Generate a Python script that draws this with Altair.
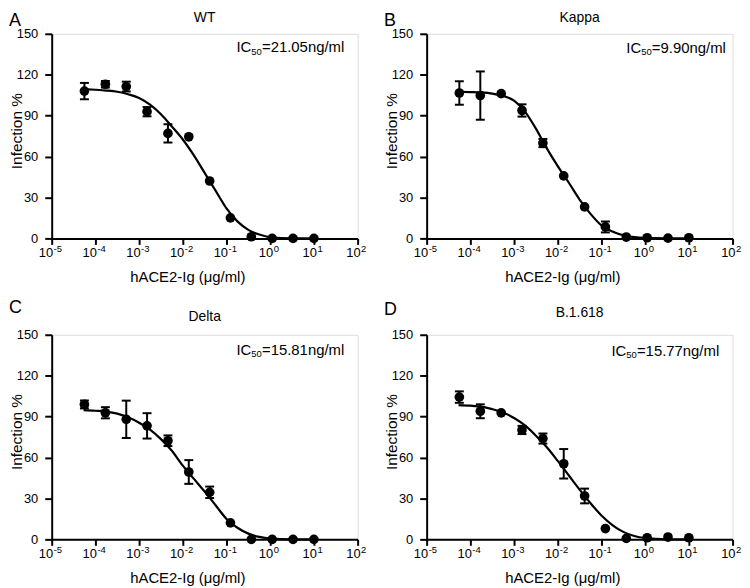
import altair as alt
import pandas as pd

FONT = "Liberation Sans"

# ---- data ----
conc = [5.6e-5, 1.69e-4, 5.08e-4, 1.52e-3, 4.57e-3, 1.37e-2, 4.12e-2, 0.123, 0.37, 1.11, 3.33, 10.0]

wt_y = [108.0, 113.0, 111.3, 92.9, 77.0, 74.5, 42.1, 15.0, 1.2, 0.0, 0.0, 0.0]
wt_err = [6.0, 2.4, 3.6, 3.4, 6.7, 0, 0, 0, 0, 0, 0, 0]
kappa_y = [106.6, 104.7, 106.1, 93.8, 69.9, 45.8, 23.1, 8.4, 1.0, 0.5, 0.2, 0.5]
kappa_err = [8.6, 17.7, 0, 4.5, 3.0, 0, 0, 4.0, 0, 0, 0, 0]
delta_y = [98.9, 92.8, 88.0, 83.2, 72.3, 49.4, 34.5, 12.1, 0.0, 0.0, 0.0, 0.0]
delta_err = [2.9, 4.1, 13.7, 9.3, 3.9, 8.7, 4.2, 0, 0, 0, 0, 0]
b1618_y = [104.3, 93.9, 92.7, 80.2, 73.9, 55.4, 31.8, 7.9, 0.7, 1.2, 1.7, 1.2]
b1618_err = [4.2, 5.1, 0, 3.0, 3.7, 10.8, 5.4, 0, 0, 0, 0, 0]

# fitted curves, read at these log10 concentrations
curve_log_conc = [-4.27, -4.0, -3.75, -3.5, -3.25, -3.0, -2.75, -2.5, -2.25, -2.0,
                  -1.75, -1.5, -1.25, -1.0, -0.75, -0.5, -0.25, 0.0, 0.5, 1.0]
wt_curve = [109.5, 109.0, 108.4, 107.5, 105.7, 103.0, 98.0, 91.0, 82.0, 72.5,
            61.0, 48.0, 35.0, 22.0, 12.5, 6.3, 2.8, 0.8, 0.0, 0.0]
kappa_curve = [107.5, 107.3, 107.0, 106.2, 104.5, 101.0, 93.0, 80.5, 66.0, 53.0,
               41.0, 28.5, 18.0, 9.5, 5.0, 2.3, 1.0, 0.4, 0.05, 0.0]
delta_curve = [94.7, 94.3, 93.7, 92.2, 89.5, 85.5, 80.5, 73.5, 65.0, 54.0,
               44.5, 35.0, 25.0, 15.0, 8.5, 4.2, 1.8, 0.6, 0.05, 0.0]
b1618_curve = [98.4, 98.0, 97.3, 95.5, 93.0, 89.0, 83.5, 76.0, 67.5, 57.5,
               47.0, 36.5, 26.5, 17.5, 10.5, 5.5, 2.5, 1.0, 0.1, 0.0]

titles = ["WT", "Kappa", "Delta", "B.1.618"]
letters = ["A", "B", "C", "D"]
ic50_text = ["=21.05ng/ml", "=9.90ng/ml", "=15.81ng/ml", "=15.77ng/ml"]
x_exponents = [-5, -4, -3, -2, -1, 0, 1, 2]
y_ticks = [0, 30, 60, 90, 120, 150]

# ---- layout / style ----
W, H = 308, 206
xscale = alt.Scale(type="log", domain=[1e-5, 1e2], nice=False)
yscale = alt.Scale(domain=[0, 150], nice=False, zero=False)
xaxis = alt.Axis(values=[10.0 ** e for e in x_exponents], labels=False, title=None,
                 grid=False, domainColor="black", domainWidth=2, tickColor="black",
                 tickWidth=2, tickSize=6)
yaxis = alt.Axis(values=y_ticks, title=None, grid=False, domainColor="black", domainWidth=2,
                 tickColor="black", tickWidth=2, tickSize=7, labelFont=FONT,
                 labelFontSize=13, labelColor="black", labelPadding=7)

one = pd.DataFrame({"d": [0]})


def txt(text, x, y, size, **kw):
    return alt.Chart(one).mark_text(text=text, font=FONT, fontSize=size, color="black",
                                    baseline="alphabetic", **kw).encode(
        x=alt.value(x), y=alt.value(y))


def panel(i, ys, errs, curve, letter_b, title_b, ic_x, ic_b):
    X = alt.X("x:Q", scale=xscale, axis=xaxis)
    Y = alt.Y("y:Q", scale=yscale, axis=yaxis)
    pts = pd.DataFrame({"x": conc, "y": ys})
    eb = pd.DataFrame({"x": [c for c, e in zip(conc, errs) if e > 0],
                       "lo": [y - e for y, e in zip(ys, errs) if e > 0],
                       "hi": [y + e for y, e in zip(ys, errs) if e > 0]})
    caps = pd.DataFrame({"x": list(eb["x"]) * 2, "y": list(eb["lo"]) + list(eb["hi"])})
    cv = pd.DataFrame({"x": [10.0 ** v for v in curve_log_conc], "y": curve})
    lab = pd.DataFrame({"x": [10.0 ** e for e in x_exponents], "e": [str(e) for e in x_exponents]})
    lab_neg = lab[[e < 0 for e in x_exponents]]
    lab_pos = lab[[e >= 0 for e in x_exponents]]

    rules = alt.Chart(eb).mark_rule(color="black", strokeWidth=2).encode(
        x=X, y=alt.Y("lo:Q", scale=yscale, axis=yaxis), y2="hi:Q")
    capm = alt.Chart(caps).mark_tick(color="black", orient="horizontal", size=9,
                                     thickness=2, opacity=1).encode(x=X, y=Y)
    line = alt.Chart(cv).mark_line(color="black", strokeWidth=2.2,
                                   interpolate="monotone").encode(x=X, y=Y)
    dots = alt.Chart(pts).mark_circle(color="black", size=95, opacity=1).encode(x=X, y=Y)

    layers = [rules, capm, line, dots]
    for df, d10, dex in ((lab_neg, 1.5, 2.0), (lab_pos, 3.0, 3.5)):
        layers.append(alt.Chart(df).mark_text(text="10", font=FONT, fontSize=13, color="black",
                                              align="right", baseline="alphabetic", dx=d10)
                      .encode(x=X, y=alt.value(H + 19)))
        layers.append(alt.Chart(df).mark_text(font=FONT, fontSize=9.5, color="black",
                                              align="left", baseline="alphabetic", dx=dex)
                      .encode(x=X, y=alt.value(H + 14), text="e:N"))
    layers += [
        txt(letters[i], -43, letter_b, 18, align="left"),
        txt(titles[i], W / 2, title_b, 14, align="center"),
        txt("hACE2-Ig (\u03bcg/ml)", W / 2 - 17, H + 44, 15, align="center"),
        txt("Infection %", -30, H / 2 - 5, 15.5, align="center", angle=270),
        txt("IC", ic_x, ic_b, 15, align="left"),
        txt("50", ic_x + 15, ic_b + 2.5, 9.5, align="left"),
        txt(ic50_text[i], ic_x + 25.7, ic_b, 15, align="left"),
    ]
    return alt.layer(*layers).properties(width=W, height=H)


pA = panel(0, wt_y, wt_err, wt_curve, -8, -12, 186, 18.5)
pB = panel(1, kappa_y, kappa_err, kappa_curve, -8, -12, 201, 19)
pC = panel(2, delta_y, delta_err, delta_curve, -22, -14, 186, 20)
pD = panel(3, b1618_y, b1618_err, b1618_curve, -20, -18, 186, 21)

chart = alt.vconcat(
    alt.hconcat(pA, pB, spacing=15.5),
    alt.hconcat(pC, pD, spacing=15.5),
    spacing=12,
).properties(
    padding={"left": 0, "top": 0, "right": 0, "bottom": 0}
).configure_view(stroke=None).configure(background="white")

chart.save("out.html", embed_options={"renderer": "svg", "actions": False})
